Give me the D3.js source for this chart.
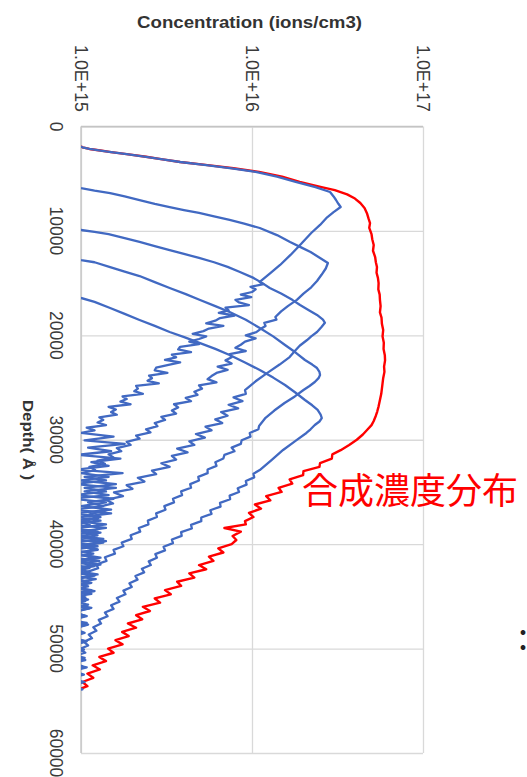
<!DOCTYPE html>
<html>
<head>
<meta charset="utf-8">
<script src="https://cdn.jsdelivr.net/npm/d3@7"></script>
<style>
  html, body { margin: 0; padding: 0; background: #fff; }
  svg { display: block; }
</style>
</head>
<body>
<svg id="chart" width="527" height="777"></svg>
<script>
// ---- axis definitions ----
const depthTicks = [0, 10000, 20000, 30000, 40000, 50000, 60000];
const concTicks = [1e15, 1e16, 1e17];
const concTickLabels = ["1.0E+15", "1.0E+16", "1.0E+17"];
const concTitle = "Concentration (ions/cm3)";
const depthTitle = "Depth( Å )";
const totalLabel = "合成濃度分布";

// ---- measured profiles: [depth (Å), concentration (ions/cm3)] ----
const implantA = [
  [1900,1.0e15],[2000,1.02e15],[2150,1.12e15],[2300,1.3e15],[2450,1.5e15],[2650,1.85e15],[2900,2.4e15],
  [3150,3.0e15],[3400,3.8e15],[3700,5.4e15],[4000,7.6e15],[4350,1.05e16],[4800,1.4e16],[5300,1.8e16],
  [5800,2.35e16],[6270,2.86e16],[6700,3.0e16],[7040,3.1e16],[7400,3.2e16],[7710,3.3e16],[8200,3.0e16],
  [8700,2.75e16],[9430,2.5e16],[10200,2.22e16],[11350,1.91e16],[12300,1.68e16],[13260,1.46e16],
  [14100,1.27e16],[14890,1.11e16],
  [15100,1.17e16],[15350,9.8e15],[15600,1.05e16],[15850,1.0e16],[16100,8.6e15],[16350,9.9e15],
  [16600,8.0e15],[16850,8.4e15],[17100,9.6e15],[17350,7.0e15],[17600,7.3e15],[17850,6.4e15],
  [18100,7.9e15],[18350,6.5e15],[18600,6.1e15],[18850,5.4e15],[19100,6.8e15],[19350,5.6e15],
  [19600,5.2e15],[19850,4.5e15],[20100,5.4e15],[20350,4.9e15],[20600,4.3e15],[20850,4.9e15],
  [21100,3.8e15],[21350,3.7e15],[21600,4.4e15],[21850,3.4e15],[22100,3.6e15],[22350,3.1e15],
  [22600,3.8e15],[22850,3.2e15],[23100,2.75e15],[23350,2.7e15],[23600,3.2e15],[23850,2.5e15],
  [24100,2.6e15],[24350,2.45e15],[24600,2.85e15],[24850,2.1e15],[25100,2.15e15],[25350,2.05e15],
  [25600,2.3e15],[25850,1.75e15],[26100,1.85e15],[26350,1.7e15],[26600,1.95e15],[26850,1.45e15],
  [27100,1.6e15],[27350,1.5e15],[27600,1.62e15],[27850,1.28e15],[28100,1.35e15],[28350,1.25e15],
  [28600,1.4e15],[28850,1.08e15],[29100,1.2e15],
  [29350,1.0e15],[29700,1.55e15],[30050,1.05e15],[30400,1.8e15],[30750,1.1e15],[31100,1.5e15],
  [31450,0.95e15],[31800,1.7e15],[32150,1.15e15],[32500,1.45e15],[32850,0.95e15],[33200,1.75e15],
  [33550,1.05e15],[33900,1.4e15],[34250,0.92e15],[34600,1.6e15],[34950,1.05e15],[35300,1.45e15],
  [35650,0.9e15],[36000,1.4e15],[36350,1.0e15],[36700,1.5e15],[37050,0.92e15],[37400,1.3e15],
  [37750,0.88e15],[38100,1.4e15],[38450,0.98e15],[38800,1.25e15],[39150,0.86e15],[39500,1.35e15],
  [39850,0.92e15],[40200,1.25e15],[40550,0.88e15],[40900,1.18e15],[41250,0.85e15],[41600,1.28e15],
  [41950,0.9e15],[42300,1.12e15],[42650,0.84e15],[43000,1.2e15],[43350,0.9e15],[43700,1.1e15],
  [44050,0.85e15],[44400,1.15e15],[44750,0.88e15],[45100,1.06e15],[45450,0.85e15],[45800,1.1e15],
  [46150,0.9e15],[46500,0.85e15]
];

const implantB = [
  [5800,0.95e15],[5900,1.0e15],[6150,1.2e15],[6370,1.48e15],[6700,1.8e15],[7040,2.2e15],[7400,2.7e15],
  [7710,3.3e15],[8000,4.0e15],[8280,4.9e15],[8600,6.0e15],[8950,7.4e15],[9300,9.0e15],[9720,1.11e16],
  [10400,1.4e16],[11060,1.67e16],[11600,1.95e16],[12020,2.2e16],[12590,2.5e16],[13070,2.78e16],
  [13600,2.7e16],[14200,2.55e16],[14800,2.4e16],[15400,2.22e16],[16000,2.0e16],[16600,1.83e16],
  [17200,1.62e16],[17700,1.48e16],[18240,1.37e16],
  [18500,1.39e16],[18800,1.18e16],[19100,1.2e16],[19400,1.12e16],[19700,1.06e16],[20000,9.2e15],
  [20300,1.05e16],[20600,9.1e15],[20900,8.6e15],[21200,8.0e15],[21500,9.2e15],[21800,7.4e15],
  [22100,7.6e15],[22400,7.0e15],[22700,7.6e15],[23000,6.3e15],[23300,7.2e15],[23600,6.2e15],
  [23900,5.8e15],[24200,5.5e15],[24500,6.2e15],[24800,4.9e15],[25100,5.1e15],[25400,4.6e15],
  [25700,4.8e15],[26000,4.1e15],[26300,4.4e15],[26600,3.5e15],[26900,3.7e15],[27200,3.4e15],
  [27500,3.6e15],[27800,2.95e15],[28100,3.1e15],[28400,2.7e15],[28700,2.8e15],[29000,2.4e15],
  [29300,2.55e15],[29600,2.1e15],[29900,2.2e15],[30200,1.85e15],[30500,1.95e15],[30800,1.62e15],
  [31100,1.72e15],[31400,1.45e15],[31700,1.55e15],[32000,1.25e15],[32300,1.38e15],[32600,1.12e15],
  [32900,1.21e15],[33200,1.0e15],
  [33550,1.45e15],[33900,1.0e15],[34250,1.6e15],[34600,1.05e15],[34950,1.4e15],[35300,0.92e15],
  [35650,1.55e15],[36000,1.1e15],[36350,1.35e15],[36700,0.9e15],[37050,1.5e15],[37400,1.0e15],
  [37750,1.3e15],[38100,0.88e15],[38450,1.4e15],[38800,1.0e15],[39150,1.25e15],[39500,0.9e15],
  [39850,1.35e15],[40200,0.95e15],[40550,1.25e15],[40900,0.86e15],[41250,1.2e15],[41600,0.95e15],
  [41950,1.3e15],[42300,0.88e15],[42650,1.12e15],[43000,0.9e15],[43350,1.22e15],[43700,0.9e15],
  [44050,1.1e15],[44400,0.85e15],[44750,1.15e15],[45100,0.88e15],[45450,1.06e15],[45800,0.86e15],
  [46150,1.12e15],[46500,0.9e15],[46850,1.05e15],[47200,0.85e15],[47550,1.08e15],[47900,0.88e15],
  [48250,0.84e15]
];

const implantC = [
  [9800,0.95e15],[9910,1.0e15],[10100,1.2e15],[10300,1.45e15],[10700,1.8e15],[11060,2.2e15],
  [11450,2.7e15],[11830,3.3e15],[12200,4.0e15],[12590,4.9e15],[13000,6.0e15],[13450,7.2e15],
  [13930,8.5e15],[14500,1.02e16],[15000,1.15e16],[15470,1.27e16],[16000,1.48e16],[16600,1.72e16],
  [17100,1.91e16],[17600,2.15e16],[18050,2.4e16],[18500,2.6e16],[18800,2.67e16],[19200,2.55e16],
  [19680,2.4e16],[20100,2.22e16],[20450,2.1e16],[21000,1.9e16],[21500,1.78e16],[22080,1.66e16],
  [22800,1.45e16],[23600,1.23e16],[24400,1.05e16],[25240,9.1e15],
  [25600,9.2e15],[25950,7.8e15],[26300,8.8e15],[26650,7.3e15],[27000,8.3e15],[27350,6.6e15],
  [27700,7.2e15],[28050,6.1e15],[28400,6.7e15],[28750,5.35e15],[29100,5.8e15],[29450,4.7e15],
  [29800,5.3e15],[30150,4.3e15],[30500,4.6e15],[30850,3.65e15],[31200,4.2e15],[31550,3.4e15],
  [31900,3.6e15],[32250,2.95e15],[32600,3.3e15],[32950,2.6e15],[33300,2.75e15],[33650,2.15e15],
  [34000,2.35e15],[34350,1.85e15],[34700,2.0e15],[35050,1.56e15],[35400,1.76e15],[35750,1.4e15],
  [36100,1.54e15],[36450,1.25e15],[36800,1.39e15],[37150,1.12e15],[37500,1.26e15],[37850,1.0e15],
  [38200,1.13e15],[38550,0.93e15],
  [38900,1.3e15],[39300,0.95e15],[39700,1.4e15],[40100,1.0e15],[40500,1.25e15],[40900,0.9e15],
  [41300,1.3e15],[41700,0.95e15],[42100,1.2e15],[42500,0.88e15],[42900,1.25e15],[43300,0.92e15],
  [43700,1.15e15],[44100,0.88e15],[44500,1.2e15],[44900,0.9e15],[45300,1.1e15],[45700,0.86e15],
  [46100,1.15e15],[46500,0.88e15],[46900,1.08e15],[47300,0.85e15],[47700,1.1e15],[48100,0.9e15],
  [48500,1.05e15],[48900,0.85e15],[49300,1.08e15],[49700,0.87e15],[50100,1.04e15],[50500,0.84e15]
];

const implantD = [
  [12700,0.95e15],[12790,1.0e15],[13000,1.2e15],[13460,1.48e15],[13900,1.8e15],[14320,2.2e15],
  [14900,2.7e15],[15470,3.3e15],[16050,4.1e15],[16620,4.97e15],[17200,6.1e15],[17760,7.4e15],
  [18500,9.2e15],[19300,1.11e16],[20100,1.33e16],[20930,1.56e16],[21650,1.8e16],[22360,2.04e16],
  [22800,2.25e16],[23130,2.4e16],[23500,2.48e16],[23800,2.5e16],[24100,2.45e16],[24470,2.33e16],
  [24850,2.17e16],[25240,2.0e16],[25850,1.78e16],[26480,1.55e16],[27200,1.35e16],[27900,1.2e16],
  [28680,1.1e16],
  [29000,1.09e16],[29350,9.7e15],[29700,9.8e15],[30050,8.7e15],[30400,8.6e15],[30750,7.6e15],
  [31100,7.9e15],[31450,6.9e15],[31800,6.8e15],[32150,6.1e15],[32500,6.2e15],[32850,5.5e15],
  [33200,5.5e15],[33550,4.85e15],[33900,4.9e15],[34250,4.35e15],[34600,4.4e15],[34950,3.85e15],
  [35300,3.9e15],[35650,3.45e15],[36000,3.5e15],[36350,3.07e15],[36700,3.12e15],[37050,2.75e15],
  [37400,2.78e15],[37750,2.46e15],[38100,2.48e15],[38450,2.18e15],[38800,2.22e15],[39150,1.95e15],
  [39500,1.98e15],[39850,1.73e15],[40200,1.77e15],[40550,1.55e15],[40900,1.58e15],[41250,1.38e15],
  [41600,1.41e15],[41950,1.23e15],[42300,1.26e15],[42650,1.09e15],[43000,1.12e15],[43350,0.97e15],
  [43700,1.1e15],[44100,0.88e15],[44500,1.14e15],[44900,0.9e15],[45300,1.06e15],[45700,0.85e15],
  [46100,1.1e15],[46500,0.9e15],[46900,1.04e15],[47300,0.86e15],[47700,1.08e15],[48100,0.88e15],
  [48500,1.03e15],[48900,0.85e15],[49300,1.06e15],[49700,0.9e15],[50100,1.02e15],[50500,0.86e15],
  [50900,1.05e15],[51300,0.88e15],[51700,1.02e15],[52100,0.85e15]
];

const implantE = [
  [16300,0.95e15],[16420,1.0e15],[16800,1.2e15],[17380,1.48e15],[17950,1.8e15],[18530,2.2e15],
  [19100,2.7e15],[19680,3.3e15],[20200,4.05e15],[20740,4.97e15],[21300,6.1e15],[21880,7.4e15],
  [22600,9.1e15],[23320,1.11e16],[24050,1.33e16],[24760,1.56e16],[25500,1.8e16],[26190,2.04e16],
  [26700,2.25e16],[27150,2.42e16],[27600,2.52e16],[27920,2.56e16],[28250,2.48e16],[28590,2.33e16],
  [29000,2.2e16],[29350,2.08e16],[30150,1.78e16],[30980,1.52e16],[31950,1.3e16],[32900,1.11e16],
  [33250,1.02e16],[33600,1.03e16],[33950,9.2e15],[34300,9.3e15],[34650,8.25e15],[35000,8.4e15],
  [35350,7.4e15],[35700,7.45e15],[36050,6.5e15],[36400,6.55e15],[36750,5.7e15],[37100,5.8e15],
  [37450,5.05e15],[37800,5.05e15],[38150,4.4e15],[38500,4.45e15],[38850,3.85e15],[39200,3.88e15],
  [39550,3.4e15],[39900,3.45e15],[40250,3.04e15],[40600,3.1e15],[40950,2.72e15],[41300,2.78e15],
  [41650,2.49e15],[42000,2.56e15],[42350,2.27e15],[42700,2.34e15],[43050,2.08e15],[43400,2.14e15],
  [43750,1.92e15],[44100,1.98e15],[44450,1.77e15],[44800,1.82e15],[45150,1.62e15],[45500,1.68e15],
  [45850,1.5e15],[46200,1.55e15],[46550,1.38e15],[46900,1.43e15],[47250,1.27e15],[47600,1.31e15],
  [47950,1.18e15],[48300,1.23e15],[48650,1.11e15],[49000,1.16e15],[49350,1.04e15],[49700,1.1e15],
  [50050,0.98e15],[50400,1.06e15],
  [50750,0.88e15],[51100,1.06e15],[51450,0.86e15],[51800,1.08e15],[52150,0.9e15],[52500,1.04e15],
  [52850,0.85e15],[53200,1.05e15],[53550,0.88e15],[53900,1.02e15],[54250,0.84e15]
];

const totalProfile = [
  [1900,1.0e15],[2000,1.02e15],[2150,1.12e15],[2300,1.3e15],[2450,1.5e15],[2650,1.85e15],[2900,2.4e15],
  [3150,3.0e15],[3400,3.8e15],[3700,5.5e15],[4000,7.8e15],[4350,1.1e16],[4800,1.5e16],[5300,1.9e16],
  [5800,2.55e16],[6100,3.05e16],[6500,3.6e16],[6900,4.0e16],[7330,4.3e16],[7800,4.55e16],[8300,4.7e16],
  [8800,4.8e16],[9250,4.9e16],[9700,4.85e16],[10300,5.0e16],[10800,5.05e16],[11350,5.15e16],
  [11900,5.1e16],[12500,5.25e16],[13000,5.3e16],[13460,5.38e16],[14000,5.35e16],[14500,5.45e16],
  [15000,5.5e16],[15600,5.48e16],[16100,5.58e16],[16600,5.6e16],[17200,5.65e16],[17800,5.6e16],
  [18300,5.72e16],[18900,5.75e16],[19500,5.85e16],[20100,5.8e16],[20700,5.9e16],[21300,5.88e16],
  [21900,5.98e16],[22400,6.0e16],[23000,5.92e16],[23500,5.95e16],[24100,5.85e16],[24600,5.8e16],
  [25100,5.75e16],[25600,5.7e16],[26200,5.6e16],[26800,5.5e16],[27300,5.4e16],[27700,5.3e16],
  [28200,5.15e16],[28600,5.0e16],[29000,4.75e16],[29500,4.45e16],[30000,4.1e16],[30500,3.7e16],
  [31000,3.3e16],[31400,2.95e16],[31800,2.93e16],[32240,2.5e16],[32600,2.48e16],[33000,2.0e16],
  [33390,1.99e16],[33800,1.66e16],[34200,1.72e16],[34600,1.43e16],[35000,1.49e16],[35400,1.21e16],
  [35800,1.28e16],[36200,1.04e16],[36600,1.13e16],[37000,9.6e15],[37400,1.02e16],[37800,9.1e15],
  [38100,9.2e15],[38450,6.9e15],[38800,8.6e15],[39220,7.7e15],[39600,8.1e15],
  [40000,7.6e15],[40400,6.35e15],[40800,6.8e15],[41200,5.6e15],[41600,5.95e15],[42000,4.9e15],
  [42400,5.4e15],[42800,4.3e15],[43200,4.6e15],[43600,3.65e15],[44000,3.85e15],[44400,3.1e15],
  [44800,3.35e15],[45200,2.7e15],[45600,2.9e15],[46000,2.3e15],[46400,2.53e15],[46800,2.1e15],
  [47200,2.28e15],[47600,1.88e15],[48000,2.1e15],[48400,1.74e15],[48800,1.9e15],[49200,1.59e15],
  [49600,1.75e15],[50000,1.44e15],[50400,1.55e15],[50800,1.28e15],[51200,1.4e15],[51600,1.17e15],
  [52000,1.29e15],[52400,1.09e15],[52800,1.18e15],[53200,1.02e15],[53600,1.09e15],[54000,0.94e15],
  [54200,0.9e15]
];

const implantProfiles = [implantA, implantB, implantC, implantD, implantE];

// ---- layout ----
const plot = { left: 81, right: 423, top: 126.5, bottom: 753 };
const x = d3.scaleLog().domain([1e15, 1e17]).range([plot.left, plot.right]);
const y = d3.scaleLinear().domain([0, 60000]).range([plot.top, plot.bottom]);

const svg = d3.select("#chart");
const latin = "'Liberation Sans', Arial, sans-serif";

svg.append("defs").append("clipPath").attr("id", "plotClip")
  .append("rect")
  .attr("x", plot.left).attr("y", plot.top)
  .attr("width", plot.right - plot.left).attr("height", plot.bottom - plot.top);

// horizontal gridlines (depth)
const gridDepth = svg.append("g")
  .attr("transform", `translate(${plot.left},0)`)
  .call(d3.axisLeft(y).tickValues(depthTicks).tickSize(-(plot.right - plot.left)).tickFormat(""));
gridDepth.select(".domain").remove();
gridDepth.selectAll("line").attr("stroke", "#d9d9d9").attr("stroke-width", 1.3);

// vertical gridlines (concentration decades)
const gridConc = svg.append("g")
  .attr("transform", `translate(0,${plot.top})`)
  .call(d3.axisTop(x).tickValues(concTicks).tickSize(-(plot.bottom - plot.top)).tickFormat(""));
gridConc.select(".domain").remove();
gridConc.selectAll("line").attr("stroke", "#d9d9d9").attr("stroke-width", 1.3);

// axis lines
svg.append("line").attr("x1", plot.left).attr("x2", plot.right).attr("y1", plot.top).attr("y2", plot.top)
  .attr("stroke", "#c4c4c4").attr("stroke-width", 1.3);
svg.append("line").attr("x1", plot.left).attr("x2", plot.left).attr("y1", plot.top).attr("y2", plot.bottom)
  .attr("stroke", "#c4c4c4").attr("stroke-width", 1.3);

// profiles
const line = d3.line()
  .x(d => x(d[1]))
  .y(d => y(d[0]));

const curves = svg.append("g").attr("clip-path", "url(#plotClip)");

curves.append("path")
  .datum(totalProfile)
  .attr("d", line)
  .attr("fill", "none")
  .attr("stroke", "#ff0000")
  .attr("stroke-width", 2.4)
  .attr("stroke-linejoin", "round");

curves.selectAll("path.implant")
  .data(implantProfiles)
  .join("path")
  .attr("class", "implant")
  .attr("d", line)
  .attr("fill", "none")
  .attr("stroke", "#4169c2")
  .attr("stroke-width", 2.3)
  .attr("stroke-linejoin", "round");

// concentration tick labels (read downward)
svg.append("g").selectAll("text")
  .data(concTicks)
  .join("text")
  .attr("transform", d => `translate(${x(d) - 6.5},112) rotate(90)`)
  .attr("text-anchor", "end")
  .attr("font-family", latin)
  .attr("font-size", 17.5)
  .attr("fill", "#3a3a3a")
  .attr("textLength", 67)
  .attr("lengthAdjust", "spacingAndGlyphs")
  .text((d, i) => concTickLabels[i]);

// depth tick labels (read downward)
svg.append("g").selectAll("text")
  .data(depthTicks)
  .join("text")
  .attr("transform", d => `translate(50,${y(d)}) rotate(90)`)
  .attr("text-anchor", "middle")
  .attr("font-family", latin)
  .attr("font-size", 17.5)
  .attr("fill", "#3a3a3a")
  .text(d => String(d));

// axis titles
svg.append("text")
  .attr("x", 249.5).attr("y", 28)
  .attr("text-anchor", "middle")
  .attr("font-family", latin)
  .attr("font-weight", "bold")
  .attr("font-size", 17)
  .attr("fill", "#333")
  .attr("textLength", 225)
  .attr("lengthAdjust", "spacingAndGlyphs")
  .text(concTitle);

svg.append("text")
  .attr("transform", "translate(23,440) rotate(90)")
  .attr("text-anchor", "middle")
  .attr("font-family", latin)
  .attr("font-weight", "bold")
  .attr("font-size", 15)
  .attr("fill", "#333")
  .attr("textLength", 80)
  .attr("lengthAdjust", "spacingAndGlyphs")
  .text(depthTitle);

// annotation for the summed profile
svg.append("text")
  .attr("x", 302).attr("y", 504)
  .attr("font-family", "'Noto Sans CJK JP', 'Noto Sans CJK SC', sans-serif")
  .attr("font-size", 36)
  .attr("fill", "#ff0000")
  .text(totalLabel);

svg.append("text")
  .attr("x", 518).attr("y", 650)
  .attr("font-family", "'Noto Sans CJK JP', sans-serif")
  .attr("font-size", 36)
  .attr("fill", "#222")
  .text(":");
</script>
</body>
</html>
